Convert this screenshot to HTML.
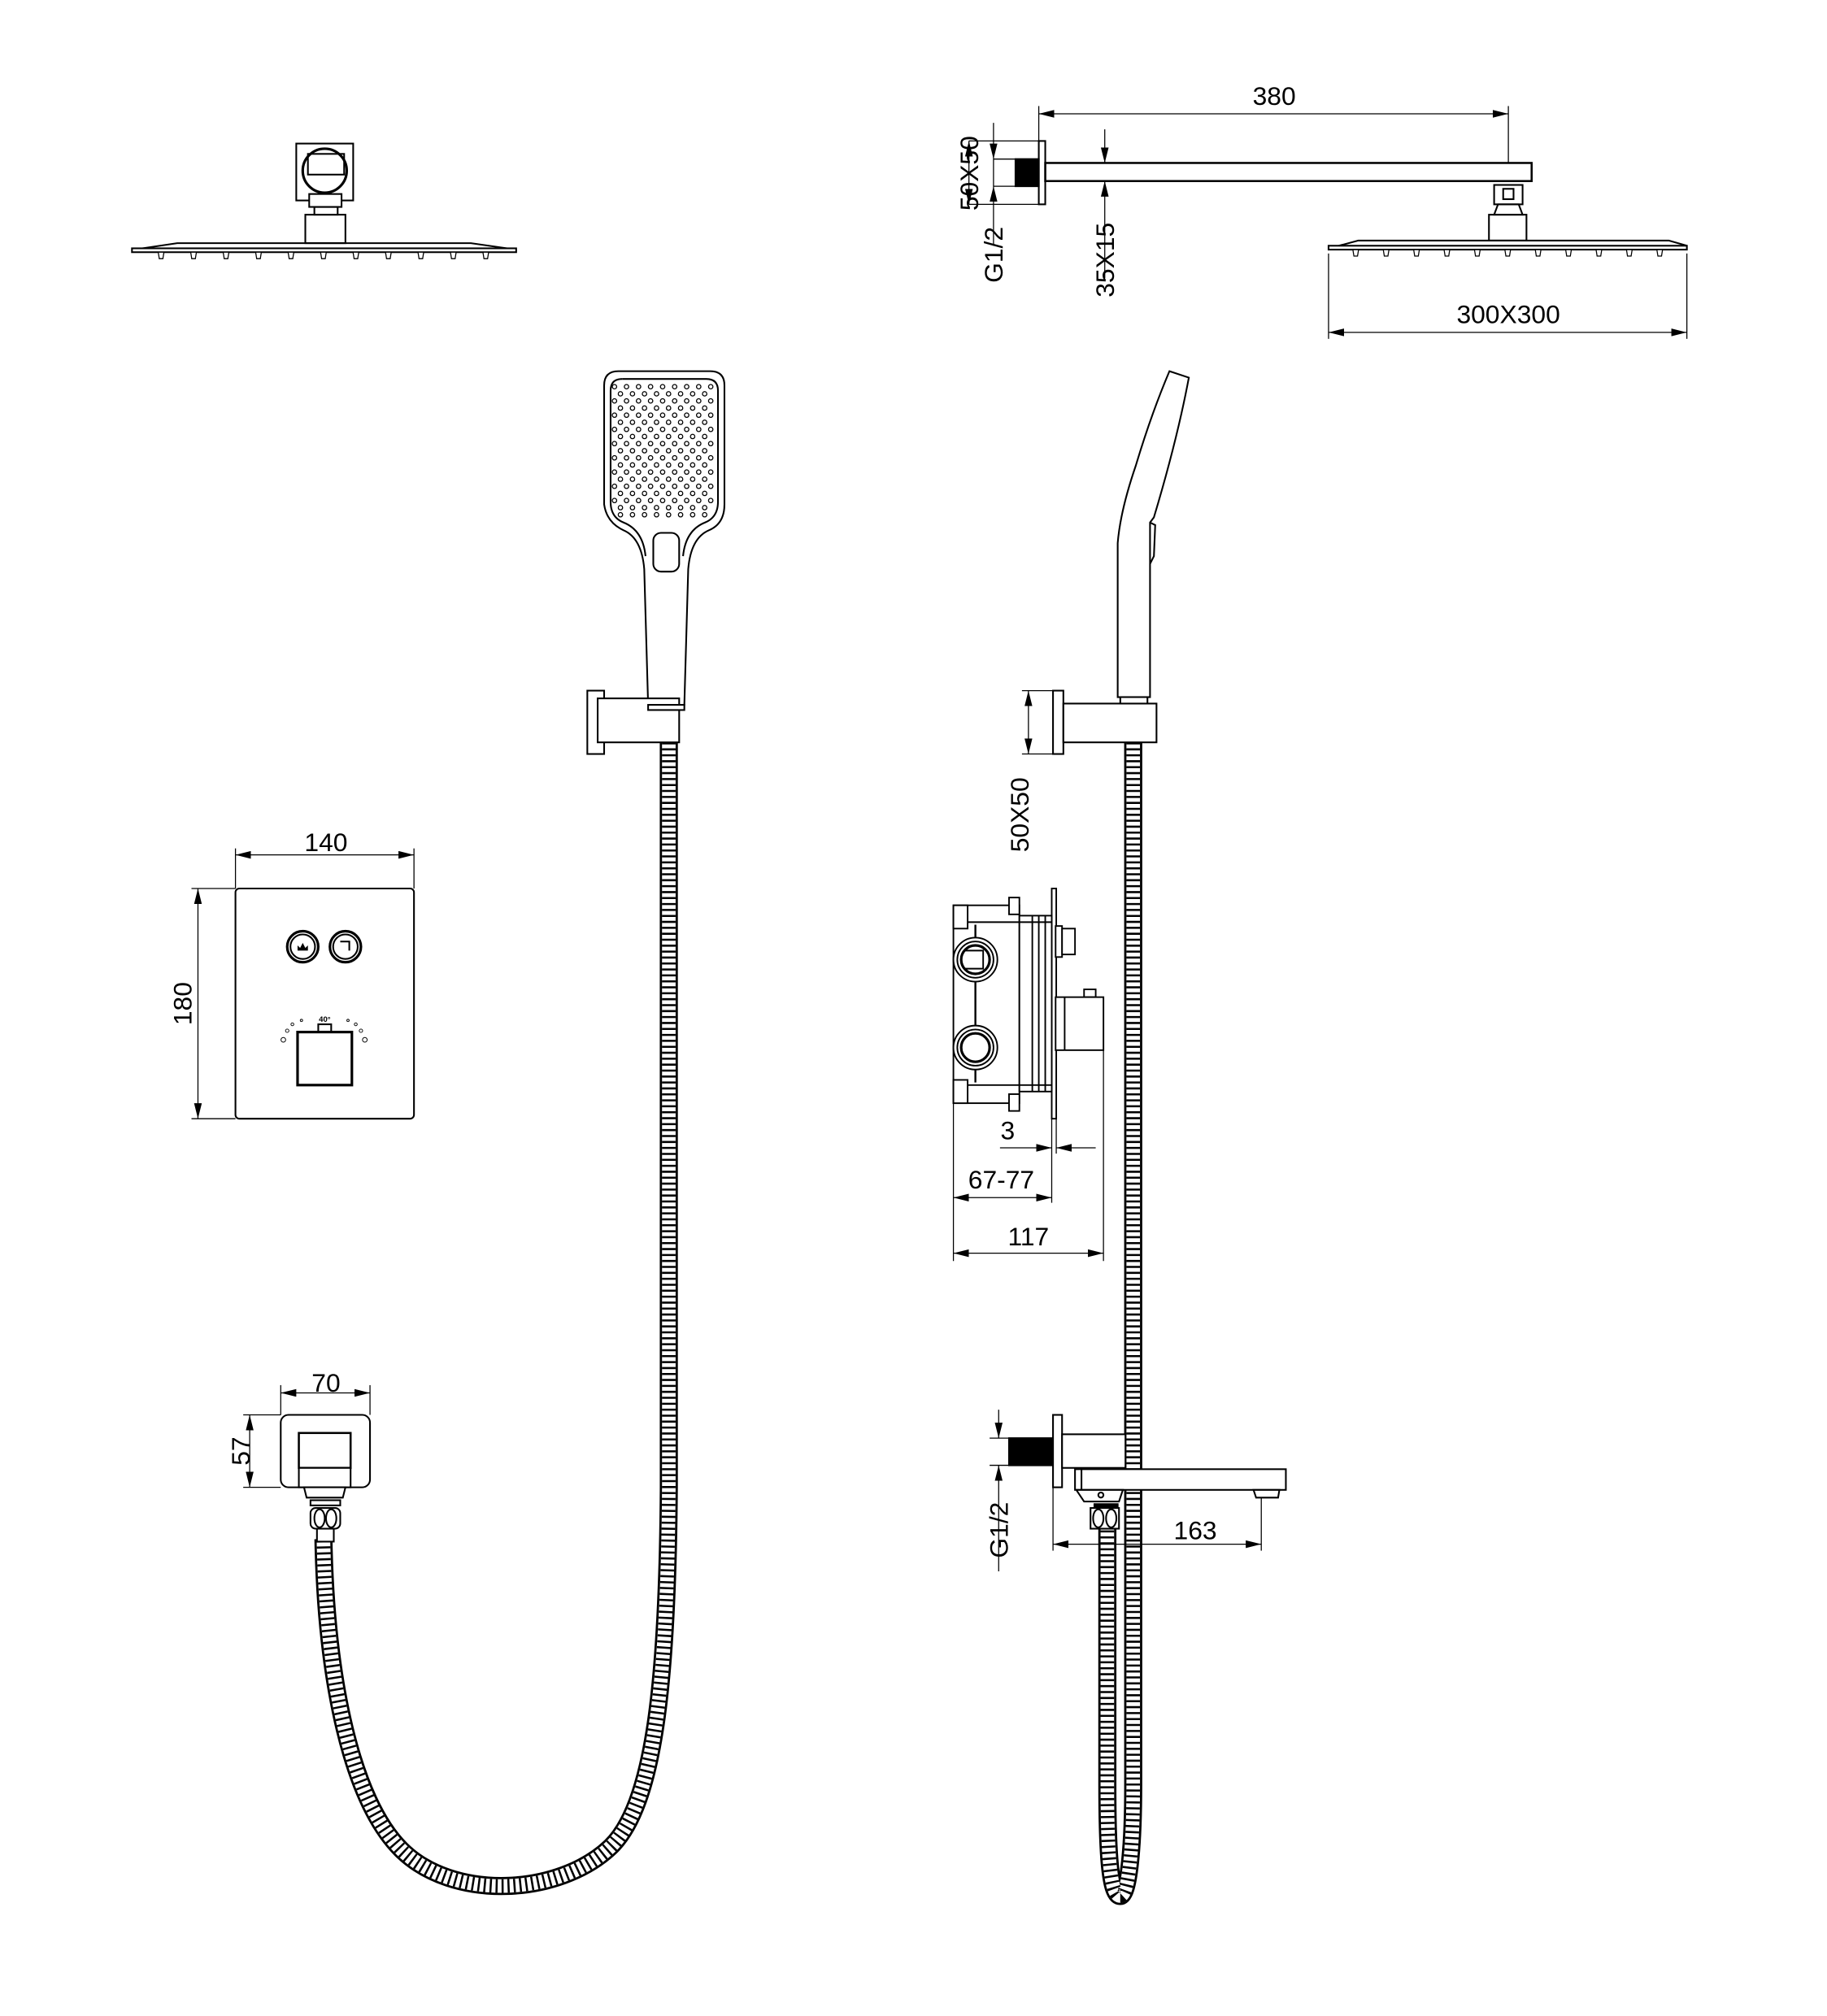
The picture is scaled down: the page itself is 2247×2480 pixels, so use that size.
<!DOCTYPE html>
<html><head><meta charset="utf-8"><style>
html,body{margin:0;padding:0;background:#fff}
svg{display:block}
text{font-family:"Liberation Sans",sans-serif;fill:#000}
</style></head><body>
<svg width="2247" height="2480" viewBox="0 0 1412.3 1558.8" xmlns="http://www.w3.org/2000/svg">
<defs>
<marker id="a" viewBox="0 0 12 6" refX="12" refY="3" markerWidth="12" markerHeight="6" markerUnits="userSpaceOnUse" orient="auto-start-reverse"><path d="M0,0L12,3L0,6z" fill="#000"/></marker>
<g id="noz"><path d="M-2.2,0 L2.2,0 L1.4,5 L-1.4,5z" fill="#fff" stroke="#000" stroke-width="0.8"/></g>
<g id="row" fill="none" stroke="#000" stroke-width="0.8">
<circle cx="475" cy="0" r="1.7"/><circle cx="484.3" cy="0" r="1.7"/><circle cx="493.6" cy="0" r="1.7"/><circle cx="502.9" cy="0" r="1.7"/><circle cx="512.2" cy="0" r="1.7"/><circle cx="521.5" cy="0" r="1.7"/><circle cx="530.8" cy="0" r="1.7"/><circle cx="540.1" cy="0" r="1.7"/><circle cx="549.4" cy="0" r="1.7"/>
</g>
<g id="row2" fill="none" stroke="#000" stroke-width="0.8">
<circle cx="479.6" cy="0" r="1.7"/><circle cx="488.9" cy="0" r="1.7"/><circle cx="498.2" cy="0" r="1.7"/><circle cx="507.5" cy="0" r="1.7"/><circle cx="516.8" cy="0" r="1.7"/><circle cx="526.1" cy="0" r="1.7"/><circle cx="535.4" cy="0" r="1.7"/><circle cx="544.7" cy="0" r="1.7"/>
</g>
</defs>
<rect width="1412.3" height="1558.8" fill="#fff"/>
<g fill="none" stroke="#000" stroke-width="1.3">

<!-- top-left shower head -->
<rect x="229" y="111" width="44" height="44" fill="#fff"/>
<circle cx="251" cy="132" r="17" stroke-width="2"/>
<rect x="238" y="119" width="28" height="16"/>
<rect x="239" y="150" width="25" height="10" fill="#fff"/>
<rect x="243" y="160" width="18" height="6"/>
<rect x="236" y="166" width="31" height="22"/>
<path d="M110,192 L137,188 L364,188 L392,192"/>
<rect x="102" y="192" width="297" height="3"/>
<g>
<use href="#noz" x="124.5" y="195"/><use href="#noz" x="149.6" y="195"/><use href="#noz" x="174.7" y="195"/><use href="#noz" x="199.8" y="195"/><use href="#noz" x="224.9" y="195"/><use href="#noz" x="250" y="195"/><use href="#noz" x="275.1" y="195"/><use href="#noz" x="300.2" y="195"/><use href="#noz" x="325.3" y="195"/><use href="#noz" x="350.4" y="195"/><use href="#noz" x="375.5" y="195"/>
</g>

<!-- top-right arm + head -->
<rect x="803" y="109" width="5" height="49"/>
<rect x="785" y="123" width="18" height="21" fill="#000"/>
<rect x="808" y="126" width="376" height="14" stroke-width="1.6"/>
<rect x="1155" y="143" width="22" height="15"/>
<rect x="1162" y="146" width="8" height="8"/>
<path d="M1158,158 L1174,158 L1177,166 L1155,166z"/>
<rect x="1151" y="166" width="29" height="20"/>
<path d="M1035,190 L1050,186 L1290,186 L1304,190"/>
<rect x="1027" y="190" width="277" height="3"/>
<g>
<use href="#noz" x="1048" y="193"/><use href="#noz" x="1071.5" y="193"/><use href="#noz" x="1095" y="193"/><use href="#noz" x="1118.5" y="193"/><use href="#noz" x="1142" y="193"/><use href="#noz" x="1165.5" y="193"/><use href="#noz" x="1189" y="193"/><use href="#noz" x="1212.5" y="193"/><use href="#noz" x="1236" y="193"/><use href="#noz" x="1259.5" y="193"/><use href="#noz" x="1283" y="193"/>
</g>
</g>

<!-- top dims -->
<g fill="none" stroke="#000" stroke-width="0.8">
<line x1="803" y1="88" x2="1166" y2="88" marker-start="url(#a)" marker-end="url(#a)"/>
<line x1="803" y1="82" x2="803" y2="109"/>
<line x1="1166" y1="82" x2="1166" y2="126"/>
<line x1="749" y1="109" x2="803" y2="109"/>
<line x1="749" y1="158" x2="803" y2="158"/>
<line x1="749" y1="109" x2="749" y2="158" marker-start="url(#a)" marker-end="url(#a)"/>
<line x1="768" y1="95" x2="768" y2="123" marker-end="url(#a)"/>
<line x1="768" y1="190" x2="768" y2="144" marker-end="url(#a)"/>
<line x1="768" y1="123" x2="785" y2="123"/><line x1="768" y1="144" x2="785" y2="144"/>
<line x1="768" y1="123" x2="768" y2="144"/>
<line x1="854" y1="100" x2="854" y2="126" marker-end="url(#a)"/>
<line x1="854" y1="215" x2="854" y2="140" marker-end="url(#a)"/>
<line x1="1027" y1="196" x2="1027" y2="262"/>
<line x1="1304" y1="196" x2="1304" y2="262"/>
<line x1="1027" y1="257" x2="1304" y2="257" marker-start="url(#a)" marker-end="url(#a)"/>
</g>
<text x="985" y="81" font-size="20" text-anchor="middle">380</text>
<text x="1166" y="250" font-size="20" text-anchor="middle">300X300</text>
<text transform="translate(756,134) rotate(-90)" font-size="20" text-anchor="middle">50X50</text>
<text transform="translate(775,197) rotate(-90)" font-size="20" text-anchor="middle">G1/2</text>
<text transform="translate(861,201) rotate(-90)" font-size="20" text-anchor="middle">35X15</text>

<!-- hoses -->
<defs>
<path id="h1" d="M517,574 L517,1150 C516,1300 506,1395 472,1428 C432,1466 350,1470 310,1430 C272,1392 252,1300 250,1190"/>
<path id="h2" d="M876,574 L876,1380 C876,1432 872,1466 866,1466 C858,1466 856,1432 856,1380 L856,1182"/>
</defs>
<g fill="none">
<use href="#h1" stroke="#000" stroke-width="14"/><use href="#h1" stroke="#fff" stroke-width="10.5"/><use href="#h1" stroke="#000" stroke-width="10.5" stroke-dasharray="1.6 3"/>
<use href="#h2" stroke="#000" stroke-width="14"/><use href="#h2" stroke="#fff" stroke-width="10.5"/><use href="#h2" stroke="#000" stroke-width="10.5" stroke-dasharray="1.6 3"/>
</g>

<!-- hand shower front -->
<g fill="#fff" stroke="#000" stroke-width="1.3">
<path d="M478,287 L549,287 Q560,287 560,298 L560,390 Q560,405 548,410 Q534,416 532,440 L529,545 L501,545 L498,440 Q496,416 482,410 Q469,404 467,390 L467,298 Q467,287 478,287z"/>
<path d="M481,293 L546,293 Q555,293 555,302 L555,388 Q555,400 545,404 Q530,410 528,430" fill="none"/>
<path d="M472,302 Q472,293 481,293 M472,302 L472,388 Q472,400 482,404 Q497,410 499,430" fill="none"/>
<rect x="505" y="412" width="20" height="30" rx="6"/>
<rect x="454" y="534" width="13" height="49"/>
<rect x="462" y="540" width="63" height="34"/>
<rect x="501" y="545" width="28" height="4"/>
</g>
<g>
<use href="#row" y="299"/><use href="#row2" y="304.5"/><use href="#row" y="310"/><use href="#row2" y="315.5"/><use href="#row" y="321"/><use href="#row2" y="326.5"/><use href="#row" y="332"/><use href="#row2" y="337.5"/><use href="#row" y="343"/><use href="#row2" y="348.5"/><use href="#row" y="354"/><use href="#row2" y="359.5"/><use href="#row" y="365"/><use href="#row2" y="370.5"/><use href="#row" y="376"/><use href="#row2" y="381.5"/><use href="#row" y="387"/><use href="#row2" y="392.5"/><use href="#row2" y="398"/>
</g>

<!-- hand shower side -->
<g fill="#fff" stroke="#000" stroke-width="1.3">
<path d="M904,287 L919,292 Q910,340 892,400 L889,404 L889,539 L864,539 L864,420 Q866,395 878,360 Q890,320 904,287z"/>
<path d="M889,404 L893,406 L892,430 L889,436" fill="none"/>
<rect x="814" y="534" width="8" height="49"/>
<rect x="822" y="544" width="72" height="30"/>
<rect x="866" y="539" width="21" height="5"/>
</g>
<g fill="none" stroke="#000" stroke-width="0.8">
<line x1="790" y1="534" x2="814" y2="534"/><line x1="790" y1="583" x2="814" y2="583"/>
<line x1="795" y1="534" x2="795" y2="583" marker-start="url(#a)" marker-end="url(#a)"/>
</g>
<text transform="translate(795,630) rotate(-90)" font-size="20" text-anchor="middle">50X50</text>

<!-- control plate -->
<g fill="none" stroke="#000" stroke-width="1.3">
<rect x="182" y="687" width="138" height="178" rx="3"/>
<circle cx="234" cy="732" r="12" stroke-width="2"/><circle cx="234" cy="732" r="9.5"/>
<circle cx="267" cy="732" r="12" stroke-width="2"/><circle cx="267" cy="732" r="9.5"/>
<path d="M263,728 L270,728 L270,735"/>
<rect x="230" y="798" width="42" height="41" stroke-width="2"/>
<rect x="246" y="792" width="10" height="6"/>
<g stroke-width="0.6"><circle cx="219" cy="804" r="1.8"/><circle cx="222" cy="797" r="1.3"/><circle cx="226" cy="792" r="1.1"/><circle cx="233" cy="789" r="0.9"/><circle cx="282" cy="804" r="1.8"/><circle cx="279" cy="797" r="1.3"/><circle cx="275" cy="792" r="1.1"/><circle cx="269" cy="789" r="0.9"/></g>
</g>
<path d="M230,735 L230,731 L232,733 L234,729 L236,733 L238,731 L238,735z" fill="#000"/>
<text x="251" y="790" font-size="6" font-weight="bold" text-anchor="middle">40°</text>
<g fill="none" stroke="#000" stroke-width="0.8">
<line x1="182" y1="656" x2="182" y2="687"/><line x1="320" y1="656" x2="320" y2="687"/>
<line x1="182" y1="661" x2="320" y2="661" marker-start="url(#a)" marker-end="url(#a)"/>
<line x1="148" y1="687" x2="182" y2="687"/><line x1="148" y1="865" x2="182" y2="865"/>
<line x1="153" y1="687" x2="153" y2="865" marker-start="url(#a)" marker-end="url(#a)"/>
</g>
<text x="252" y="658" font-size="20" text-anchor="middle">140</text>
<text transform="translate(148,776) rotate(-90)" font-size="20" text-anchor="middle">180</text>

<!-- valve -->
<g fill="#fff" stroke="#000" stroke-width="1.2">
<rect x="813" y="687" width="3.5" height="178"/>
<rect x="737" y="700" width="51" height="153"/>
<rect x="737" y="700" width="11" height="18"/><rect x="737" y="835" width="11" height="18"/>
<rect x="780" y="694" width="8" height="13"/><rect x="780" y="846" width="8" height="13"/>
<rect x="788" y="708" width="25" height="136"/>
<line x1="798" y1="708" x2="798" y2="844"/><line x1="803" y1="708" x2="803" y2="844"/><line x1="808" y1="708" x2="808" y2="844"/>
<line x1="748" y1="713" x2="813" y2="713"/><line x1="748" y1="839" x2="813" y2="839"/>
<line x1="754" y1="715" x2="754" y2="837" stroke-width="1.5"/>
<circle cx="754" cy="742" r="17"/><circle cx="754" cy="742" r="14"/><circle cx="754" cy="742" r="11" stroke-width="2"/>
<path d="M746,735 L760,735 L760,749 L746,749" fill="none"/>
<circle cx="754" cy="810" r="17"/><circle cx="754" cy="810" r="14"/><circle cx="754" cy="810" r="11" stroke-width="2"/>
<rect x="816" y="716" width="5" height="24"/><rect x="821" y="718" width="10" height="20"/>
<rect x="838" y="765" width="9" height="6"/>
<rect x="816" y="771" width="37" height="41"/><line x1="823" y1="771" x2="823" y2="812"/>
</g>
<g fill="none" stroke="#000" stroke-width="0.8">
<line x1="737" y1="853" x2="737" y2="975"/>
<line x1="813" y1="865" x2="813" y2="930"/><line x1="816.5" y1="865" x2="816.5" y2="892"/>
<line x1="853" y1="812" x2="853" y2="975"/>
<line x1="773" y1="887.5" x2="813" y2="887.5" marker-end="url(#a)"/>
<line x1="847" y1="887.5" x2="816.5" y2="887.5" marker-end="url(#a)"/>
<line x1="737" y1="926" x2="813" y2="926" marker-start="url(#a)" marker-end="url(#a)"/>
<line x1="737" y1="969" x2="853" y2="969" marker-start="url(#a)" marker-end="url(#a)"/>
</g>
<text x="779" y="881" font-size="20" text-anchor="middle">3</text>
<text x="774" y="919" font-size="20" text-anchor="middle">67-77</text>
<text x="795" y="963" font-size="20" text-anchor="middle">117</text>

<!-- outlet elbow -->
<g fill="#fff" stroke="#000" stroke-width="1.3">
<rect x="217" y="1094" width="69" height="56" rx="6"/>
<rect x="231" y="1108" width="40" height="27" stroke-width="1.6"/>
<rect x="231" y="1135" width="40" height="15"/>
<path d="M235,1150 L267,1150 L265,1158 L237,1158z"/>
<rect x="240" y="1160" width="23" height="4"/>
<rect x="240" y="1166" width="23" height="16" rx="4"/>
<ellipse cx="247" cy="1174" rx="4" ry="7"/><ellipse cx="256" cy="1174" rx="4" ry="7"/>
<rect x="245" y="1182" width="13" height="10"/>
</g>
<g fill="none" stroke="#000" stroke-width="0.8">
<line x1="217" y1="1071" x2="217" y2="1094"/><line x1="286" y1="1071" x2="286" y2="1094"/>
<line x1="217" y1="1077" x2="286" y2="1077" marker-start="url(#a)" marker-end="url(#a)"/>
<line x1="188" y1="1094" x2="217" y2="1094"/><line x1="188" y1="1150" x2="217" y2="1150"/>
<line x1="193" y1="1094" x2="193" y2="1150" marker-start="url(#a)" marker-end="url(#a)"/>
</g>
<text x="252" y="1076" font-size="20" text-anchor="middle">70</text>
<text transform="translate(193,1122) rotate(-90)" font-size="20" text-anchor="middle">57</text>

<!-- spout -->
<g fill="#fff" stroke="#000" stroke-width="1.3">
<rect x="814" y="1094" width="7" height="56"/>
<rect x="780" y="1112" width="33" height="21" fill="#000"/>
<rect x="821" y="1109" width="49" height="26"/>
<rect x="831" y="1136" width="163" height="16"/>
<line x1="836" y1="1136" x2="836" y2="1152"/>
<path d="M832,1152 L868,1152 L865,1161 L838,1161z"/>
<circle cx="851" cy="1156" r="2"/>
<path d="M969,1152 L989,1152 L988,1158 L971,1158z"/>
<rect x="846" y="1163" width="18" height="3" fill="#000"/>
<rect x="843" y="1166" width="22" height="16"/>
<ellipse cx="849" cy="1174" rx="4" ry="7"/><ellipse cx="859" cy="1174" rx="4" ry="7"/>
</g>
<g fill="none" stroke="#000" stroke-width="0.8">
<line x1="772" y1="1090" x2="772" y2="1112" marker-end="url(#a)"/>
<line x1="772" y1="1215" x2="772" y2="1133" marker-end="url(#a)"/>
<line x1="765" y1="1112" x2="780" y2="1112"/><line x1="765" y1="1133" x2="780" y2="1133"/>
<line x1="814" y1="1150" x2="814" y2="1199"/>
<line x1="975" y1="1158" x2="975" y2="1199"/>
<line x1="814" y1="1194" x2="975" y2="1194" marker-start="url(#a)" marker-end="url(#a)"/>
</g>
<text x="924" y="1190" font-size="20" text-anchor="middle">163</text>
<text transform="translate(779,1183) rotate(-90)" font-size="20" text-anchor="middle">G1/2</text>
</svg>
</body></html>
